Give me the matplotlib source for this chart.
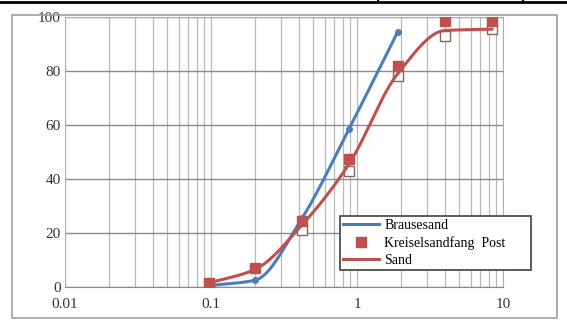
import matplotlib
matplotlib.use("Agg")
import matplotlib.pyplot as plt
import numpy as np
from matplotlib.patches import Rectangle
from matplotlib.lines import Line2D

# grain sizes (mm) and passing percentages
size_blue = [0.097, 0.2, 0.42, 0.88, 1.9]
pass_blue = [0.5, 2.5, 25.5, 58.5, 94.5]

size_red = [0.097, 0.2, 0.42, 0.88, 1.9, 4.0, 8.4]
pass_red_pts = [1.5, 7.0, 24.5, 47.5, 82.0, 98.5, 98.5]
pass_sand = [1.5, 6.5, 23.0, 45.5, 79.0, 95.0, 95.5]
pass_open = [None, None, 21.0, 43.0, 78.0, 93.0, 95.5]

labels = ["Brausesand", "Kreiselsandfang  Post", "Sand"]
xticks = [0.01, 0.1, 1, 10]
xticklabels = ["0.01", "0.1", "1", "10"]
yticks = [0, 20, 40, 60, 80, 100]

BLUE = "#4a7ebb"
RED = "#c0504d"


def smooth(xs, ys, n=40):
    """Monotone cubic (Fritsch-Carlson) in log-x, close to Excel's smoothed line."""
    x = np.log10(np.asarray(xs, dtype=float))
    y = np.asarray(ys, dtype=float)
    h = np.diff(x)
    d = np.diff(y) / h
    m = np.empty_like(y)
    m[0], m[-1] = d[0], d[-1]
    for i in range(1, len(y) - 1):
        if d[i - 1] * d[i] <= 0:
            m[i] = 0.0
        else:
            w1, w2 = 2 * h[i] + h[i - 1], h[i] + 2 * h[i - 1]
            m[i] = (w1 + w2) / (w1 / d[i - 1] + w2 / d[i])
    xo, yo = [], []
    for i in range(len(h)):
        t = np.linspace(0, 1, n)
        h00 = 2 * t**3 - 3 * t**2 + 1
        h10 = t**3 - 2 * t**2 + t
        h01 = -2 * t**3 + 3 * t**2
        h11 = t**3 - t**2
        xo.append(x[i] + t * h[i])
        yo.append(h00 * y[i] + h10 * h[i] * m[i] + h01 * y[i + 1] + h11 * h[i] * m[i + 1])
    return 10 ** np.concatenate(xo), np.concatenate(yo)


plt.rcParams["font.family"] = ["Liberation Serif", "DejaVu Serif"]

fig = plt.figure(figsize=(5.67, 3.23), dpi=100)
ax = fig.add_axes([65 / 567, 1 - 287 / 323, 438 / 567, 270 / 323])

# chart frame and the table line above it
fig.patches.append(Rectangle((12 / 567, 5 / 323), 545 / 567, 303 / 323,
                             transform=fig.transFigure, fill=False,
                             edgecolor="#a0a0a0", lw=1.2))
fig.add_artist(Line2D([0, 1], [1 - 2 / 323] * 2, transform=fig.transFigure,
                      color="black", lw=2))
for xp in (378, 523):
    fig.add_artist(Line2D([xp / 567] * 2, [1 - 2 / 323, 1], transform=fig.transFigure,
                          color="black", lw=1.5))

ax.set_xscale("log")
ax.set_xlim(0.01, 10)
ax.set_ylim(0, 100)

ax.grid(True, which="both", axis="x", color="#b8b8b8", lw=0.9)
ax.grid(True, which="major", axis="y", color="#8a8a8a", lw=1.0)
ax.set_axisbelow(True)

bx, by = smooth(size_blue, pass_blue)
ax.plot(bx, by, color=BLUE, lw=2.2, label=labels[0])
ax.plot(size_blue, pass_blue, "o", color=BLUE, ms=4, zorder=4)

rx, ry = smooth(size_red, pass_sand)
ox = [x for x, v in zip(size_red, pass_open) if v is not None]
oy = [v for v in pass_open if v is not None]
ax.plot(ox, oy, "s", mfc="white", mec="#7a6a60", ms=7, mew=1.0, zorder=3)
ax.plot(size_red, pass_red_pts, "s", color=RED, ms=7, zorder=5, label=labels[1])
ax.plot(rx, ry, color=RED, lw=2.2, zorder=4, label=labels[2])

ax.set_xticks(xticks)
ax.set_xticklabels(xticklabels)
ax.set_yticks(yticks)
ax.tick_params(axis="both", which="both", length=0, labelsize=11, colors="#333333")
ax.tick_params(axis="x", pad=8)
ax.tick_params(axis="y", pad=3)
for s in ax.spines.values():
    s.set_color("#b0b0b0")
ax.spines["bottom"].set_color("#8a8a8a")

leg = ax.legend(loc="lower left", bbox_to_anchor=(0.612, 0.038, 0.468, 0.207),
                mode="expand", fontsize=10, frameon=True, fancybox=False,
                handlelength=2.6, handletextpad=0.4, labelspacing=0.3,
                borderpad=0.2, framealpha=1)
leg.get_frame().set_edgecolor("#404040")
leg.get_frame().set_linewidth(1.2)

fig.savefig("out.png", dpi=100)
